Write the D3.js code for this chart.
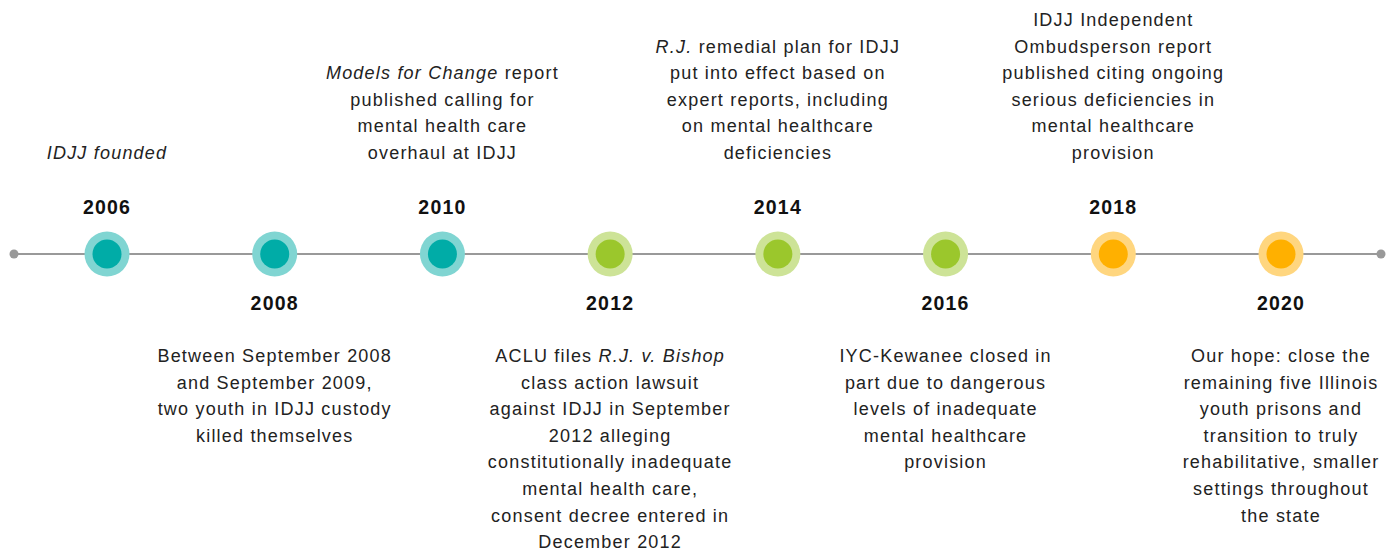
<!DOCTYPE html>
<html>
<head>
<meta charset="utf-8">
<script src="https://cdn.jsdelivr.net/npm/d3@7"></script>
<style>
  body { margin: 0; background: #fff; }
  text { font-family: "Liberation Sans", Arial, sans-serif; }
</style>
</head>
<body>
<svg id="timeline" width="1395" height="552"></svg>
<script>
// timeline data
var years = [2006, 2008, 2010, 2012, 2014, 2016, 2018, 2020]
var phase = ["teal", "teal", "teal", "green", "green", "green", "orange", "orange"]
// text lines, *...* marks italic parts
var notes = [
  ["*IDJJ founded*"],
  ["Between September 2008", "and September 2009,", "two youth in IDJJ custody", "killed themselves"],
  ["*Models for Change* report", "published calling for", "mental health care", "overhaul at IDJJ"],
  ["ACLU files *R.J. v. Bishop*", "class action lawsuit", "against IDJJ in September", "2012 alleging", "constitutionally inadequate", "mental health care,", "consent decree entered in", "December 2012"],
  ["*R.J.* remedial plan for IDJJ", "put into effect based on", "expert reports, including", "on mental healthcare", "deficiencies"],
  ["IYC-Kewanee closed in", "part due to dangerous", "levels of inadequate", "mental healthcare", "provision"],
  ["IDJJ Independent", "Ombudsperson report", "published citing ongoing", "serious deficiencies in", "mental healthcare", "provision"],
  ["Our hope: close the", "remaining five Illinois", "youth prisons and", "transition to truly", "rehabilitative, smaller", "settings throughout", "the state"]
]

var inner = { teal: "#00aca7", green: "#9bc72c", orange: "#ffb000" }
var outer = { teal: "#80d5d2", green: "#cde397", orange: "#ffd67f" }

var svg = d3.select("#timeline")
var lineY = 254
var lineH = 26.6

var x = d3.scaleLinear()
  .domain([2006, 2020])
  .range([107, 1281])

// main line with end dots
svg.append("line")
  .attr("x1", 14).attr("x2", 1381)
  .attr("y1", lineY).attr("y2", lineY)
  .attr("stroke", "#999").attr("stroke-width", 2)
svg.selectAll(".end")
  .data([14, 1381])
  .enter().append("circle")
  .attr("cx", function(d) { return d; })
  .attr("cy", lineY)
  .attr("r", 4.5)
  .attr("fill", "#999")

var ev = svg.selectAll(".event")
  .data(years)
  .enter()
  .append("g")
  .attr("class", "event")
  .attr("transform", function(d) { return "translate(" + x(d) + "," + lineY + ")"; })

ev.append("circle").attr("r", 22.5).attr("fill", function(d, i) { return outer[phase[i]]; })
ev.append("circle").attr("r", 14.5).attr("fill", function(d, i) { return inner[phase[i]]; })

// year labels, alternate above / below
ev.append("text")
  .attr("text-anchor", "middle")
  .attr("y", function(d, i) { return i % 2 == 0 ? -40 : 56; })
  .attr("font-size", "19.5px")
  .attr("font-weight", "bold")
  .attr("letter-spacing", "1.2px")
  .attr("fill", "#111")
  .text(function(d) { return d; })

ev.each(function(d, i) {
  var g = d3.select(this)
  var lines = notes[i]
  var up = i % 2 == 0
  lines.forEach(function(ln, j) {
    var y = up ? -95 - (lines.length - 1 - j) * lineH : 108 + j * lineH
    var t = g.append("text")
      .attr("text-anchor", "middle")
      .attr("y", y)
      .attr("font-size", "18px")
      .attr("letter-spacing", "1.2px")
      .attr("fill", "#222")
    ln.split("*").forEach(function(part, k) {
      if (part == "") return
      t.append("tspan")
        .attr("font-style", k % 2 == 1 ? "italic" : "normal")
        .text(part)
    })
  })
})
</script>
</body>
</html>
